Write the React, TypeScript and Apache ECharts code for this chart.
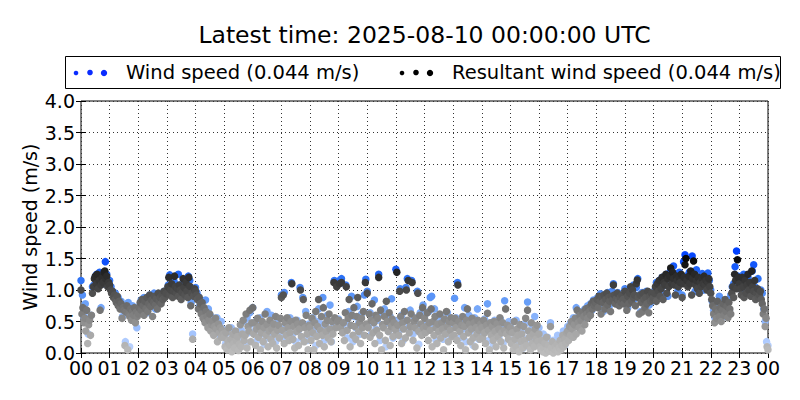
import React, { useEffect, useRef } from "react";
import * as echarts from "echarts";

const titleText = "Latest time: 2025-08-10 00:00:00 UTC";
const legendLabels = ["Wind speed (0.044 m/s)", "Resultant wind speed (0.044 m/s)"];
const yAxisName = "Wind speed (m/s)";
const windStepMinutes = 3; // wind speed: one sample every 3 minutes (20 per hour) + final 24:00 sample
const resultantStepMinutes = 2; // resultant: one sample every 2 minutes (30 per hour) + final 24:00 sample

// Wind speed (m/s), one row per hour 00..23, last row = 24:00
const windSpeed = [
  1.15, 0.92, 0.58, 0.78, 0.52, 0.30, 0.55, 0.60, 1.05, 1.08, 1.22, 1.25, 1.12, 1.28, 0.72, 1.18, 1.10, 1.45, 1.25, 1.15,
  1.15, 1.05, 0.98, 0.92, 0.95, 0.85, 0.88, 0.78, 0.82, 0.58, 0.75, 0.18, 0.70, 0.80, 0.10, 0.65, 0.75, 0.56, 0.70, 0.40,
  0.66, 0.75, 0.84, 0.72, 0.88, 0.80, 0.64, 0.85, 0.92, 0.74, 0.82, 0.95, 0.70, 0.88, 0.78, 0.93, 0.84, 0.90, 0.98, 0.92,
  0.98, 1.08, 1.24, 0.95, 1.04, 1.14, 0.92, 1.02, 1.25, 1.08, 0.98, 0.94, 1.12, 1.04, 0.90, 1.22, 1.15, 0.80, 0.30, 0.96,
  1.04, 0.96, 0.90, 0.75, 0.82, 0.68, 0.60, 0.84, 0.55, 0.70, 0.48, 0.58, 0.42, 0.52, 0.36, 0.56, 0.45, 0.28, 0.50, 0.38,
  0.26, 0.15, 0.32, 0.10, 0.20, 0.40, 0.16, 0.24, 0.08, 0.30, 0.18, 0.12, 0.36, 0.22, 0.50, 0.16, 0.56, 0.32, 0.64, 0.46,
  0.72, 0.34, 0.50, 0.20, 0.42, 0.56, 0.30, 0.44, 0.14, 0.38, 0.66, 0.24, 0.42, 0.60, 0.32, 0.46, 0.18, 0.38, 0.54, 0.28,
  0.92, 0.40, 0.96, 0.22, 0.48, 0.34, 0.56, 1.12, 0.30, 0.44, 0.18, 0.52, 0.36, 1.04, 0.24, 0.88, 0.42, 0.66, 0.20, 0.46,
  0.44, 0.24, 0.56, 0.36, 0.12, 0.50, 0.70, 0.32, 0.46, 0.88, 0.20, 0.42, 0.60, 0.34, 0.76, 0.18, 0.48, 1.15, 0.54, 1.08,
  0.54, 1.16, 1.18, 0.38, 0.48, 1.08, 0.24, 0.66, 0.44, 0.90, 0.18, 0.58, 0.40, 0.74, 0.48, 0.30, 0.62, 0.42, 0.92, 1.17,
  0.98, 0.44, 0.64, 0.30, 0.56, 0.84, 0.38, 0.52, 1.25, 0.20, 0.64, 0.42, 0.70, 0.10, 0.48, 0.34, 0.58, 0.86, 0.24, 0.52,
  1.33, 0.48, 0.34, 1.02, 0.60, 0.20, 0.52, 1.04, 1.18, 0.42, 0.68, 1.15, 0.30, 0.56, 0.46, 0.98, 0.14, 0.64, 0.38, 0.76,
  0.58, 0.38, 0.48, 0.66, 0.88, 0.90, 0.42, 0.70, 0.20, 0.52, 0.34, 0.60, 0.44, 0.22, 0.50, 0.38, 0.64, 0.30, 0.50, 0.42,
  0.52, 0.87, 0.56, 1.12, 0.46, 0.24, 0.54, 0.38, 0.72, 0.18, 0.48, 0.60, 0.34, 0.46, 0.12, 0.56, 0.38, 0.70, 0.22, 0.48,
  0.42, 0.30, 0.54, 0.38, 0.78, 0.20, 0.48, 0.40, 0.12, 0.52, 0.34, 0.46, 0.24, 0.54, 0.38, 0.16, 0.83, 0.44, 0.30, 0.50,
  0.42, 0.20, 0.36, 0.12, 0.52, 0.26, 0.16, 0.40, 0.32, 0.08, 0.46, 0.22, 0.81, 0.34, 0.14, 0.44, 0.24, 0.58, 0.18, 0.36,
  0.40, 0.20, 0.15, 0.30, 0.10, 0.18, 0.25, 0.08, 0.48, 0.12, 0.20, 0.10, 0.15, 0.28, 0.08, 0.14, 0.20, 0.35, 0.12, 0.25,
  0.42, 0.28, 0.48, 0.36, 0.56, 0.45, 0.72, 0.52, 0.60, 0.38, 0.66, 0.55, 0.70, 0.58, 0.75, 0.64, 0.78, 0.68, 0.84, 0.80,
  0.82, 0.88, 0.76, 0.94, 0.86, 0.66, 0.92, 0.84, 0.96, 0.74, 0.88, 0.98, 1.10, 0.92, 0.82, 0.96, 0.86, 0.80, 0.90, 0.84,
  1.02, 0.88, 0.72, 0.94, 0.82, 0.98, 1.08, 0.86, 1.04, 1.18, 0.92, 0.66, 0.96, 0.84, 0.70, 0.98, 0.90, 0.76, 0.92, 0.82,
  0.92, 1.00, 1.12, 0.90, 1.15, 1.02, 1.20, 0.95, 1.08, 1.25, 0.90, 1.18, 1.30, 1.10, 1.38, 1.22, 1.12, 0.98, 1.28, 1.18,
  0.92, 1.45, 1.56, 1.22, 1.12, 1.28, 1.15, 1.54, 1.25, 0.98, 1.32, 1.15, 1.20, 1.08, 1.26, 1.00, 1.18, 1.12, 1.27, 1.15,
  1.00, 0.82, 0.68, 0.55, 0.76, 0.62, 0.90, 0.72, 0.65, 0.80, 0.58, 0.75, 0.85, 0.68, 0.92, 1.05, 1.10, 1.37, 1.62, 1.22,
  1.15, 1.08, 0.98, 1.25, 1.10, 0.95, 1.20, 1.00, 1.12, 1.30, 1.40, 1.05, 0.96, 1.18, 0.90, 1.00, 0.95, 0.70, 0.50, 0.18,
  0.12,
];

// Resultant wind speed (m/s), one row per hour 00..23 (30 samples), last row = 24:00
const resultantSpeed = [
  1.00, 0.62, 0.72, 0.48, 0.55, 0.35, 0.68, 0.15, 0.45, 0.52, 0.28, 0.60, 0.95, 1.05, 1.18, 1.22, 1.10, 1.25, 1.02, 1.15, 0.68, 1.08, 1.20, 1.12, 1.28, 1.30, 1.18, 1.22, 1.05, 1.12,
  1.08, 1.00, 0.95, 0.98, 0.88, 0.92, 0.85, 0.80, 0.90, 0.75, 0.82, 0.70, 0.78, 0.55, 0.72, 0.68, 0.12, 0.65, 0.75, 0.05, 0.62, 0.58, 0.70, 0.52, 0.66, 0.60, 0.72, 0.48, 0.65, 0.58,
  0.62, 0.72, 0.80, 0.68, 0.85, 0.75, 0.60, 0.82, 0.70, 0.88, 0.66, 0.78, 0.92, 0.74, 0.84, 0.58, 0.80, 0.90, 0.76, 0.86, 0.70, 0.95, 0.82, 0.88, 0.78, 0.92, 0.85, 0.98, 0.88, 0.94,
  0.95, 1.05, 1.20, 0.92, 1.00, 1.10, 0.88, 0.98, 1.22, 1.05, 0.95, 1.02, 0.90, 1.08, 1.00, 0.85, 0.96, 1.18, 1.04, 0.92, 1.12, 0.98, 0.88, 1.20, 1.06, 0.75, 0.95, 0.22, 0.90, 1.02,
  0.98, 0.92, 0.85, 0.70, 0.88, 0.78, 0.62, 0.80, 0.55, 0.72, 0.48, 0.66, 0.58, 0.40, 0.52, 0.62, 0.35, 0.45, 0.50, 0.28, 0.42, 0.55, 0.38, 0.18, 0.46, 0.32, 0.40, 0.25, 0.36, 0.30,
  0.25, 0.10, 0.32, 0.05, 0.18, 0.40, 0.12, 0.22, 0.02, 0.30, 0.15, 0.08, 0.35, 0.20, 0.26, 0.04, 0.14, 0.45, 0.10, 0.30, 0.52, 0.20, 0.28, 0.62, 0.08, 0.42, 0.35, 0.68, 0.18, 0.48,
  0.72, 0.30, 0.48, 0.12, 0.38, 0.55, 0.25, 0.42, 0.05, 0.32, 0.50, 0.18, 0.40, 0.62, 0.28, 0.45, 0.10, 0.35, 0.52, 0.22, 0.38, 0.15, 0.46, 0.30, 0.58, 0.08, 0.36, 0.44, 0.24, 0.55,
  0.88, 0.36, 0.92, 0.15, 0.48, 0.28, 0.56, 0.40, 0.20, 0.32, 0.50, 1.10, 0.22, 0.42, 0.08, 0.52, 0.34, 0.46, 0.12, 0.38, 1.00, 0.26, 0.48, 0.85, 0.18, 0.40, 0.60, 0.30, 0.05, 0.44,
  0.40, 0.20, 0.55, 0.32, 0.05, 0.48, 0.66, 0.26, 0.42, 0.85, 0.15, 0.36, 0.58, 0.28, 0.72, 0.10, 0.46, 0.34, 0.52, 0.24, 0.62, 0.38, 0.18, 0.50, 0.30, 1.12, 0.56, 0.40, 1.05, 0.50,
  0.52, 1.10, 0.40, 1.12, 0.32, 0.48, 0.20, 0.64, 1.05, 0.36, 0.55, 0.85, 0.10, 0.44, 0.60, 0.28, 0.72, 0.42, 0.22, 0.58, 0.88, 0.34, 0.48, 0.15, 0.55, 0.40, 0.66, 0.28, 1.12, 0.46,
  0.95, 0.40, 0.62, 0.25, 0.52, 0.78, 0.32, 0.48, 0.15, 0.60, 0.36, 0.55, 1.20, 0.28, 0.68, 0.05, 0.45, 0.40, 0.58, 0.20, 0.82, 0.50, 0.34, 0.64, 0.12, 0.42, 0.54, 0.26, 0.48, 0.38,
  0.36, 1.28, 0.44, 0.28, 0.98, 0.58, 0.15, 0.48, 0.38, 0.66, 0.24, 1.00, 0.52, 1.15, 0.32, 0.42, 0.62, 1.12, 0.20, 0.50, 0.40, 0.55, 0.08, 0.95, 0.34, 0.60, 0.46, 0.28, 0.72, 0.40,
  0.55, 0.32, 0.42, 0.64, 0.20, 0.48, 0.36, 0.70, 0.10, 0.50, 0.28, 0.58, 0.40, 0.15, 0.46, 0.34, 0.62, 0.24, 0.48, 0.38, 0.05, 0.54, 0.30, 0.66, 0.42, 0.18, 0.50, 0.36, 0.56, 0.26,
  0.48, 0.28, 0.55, 0.40, 0.20, 1.08, 0.50, 0.34, 0.12, 0.44, 0.58, 0.26, 0.42, 0.05, 0.52, 0.70, 0.32, 0.46, 0.18, 0.38, 0.55, 0.24, 0.48, 0.10, 0.40, 0.30, 0.52, 0.36, 0.22, 0.46,
  0.40, 0.24, 0.52, 0.32, 0.15, 0.44, 0.63, 0.36, 0.05, 0.48, 0.28, 0.42, 0.20, 0.50, 0.34, 0.10, 0.46, 0.26, 0.38, 0.56, 0.18, 0.32, 0.48, 0.08, 0.36, 0.70, 0.30, 0.44, 0.22, 0.35,
  0.40, 0.15, 0.32, 0.05, 0.50, 0.22, 0.10, 0.38, 0.28, 0.02, 0.45, 0.18, 0.30, 0.08, 0.42, 0.20, 0.55, 0.12, 0.68, 0.35, 0.25, 0.05, 0.48, 0.15, 0.30, 0.10, 0.38, 0.22, 0.44, 0.18,
  0.30, 0.10, 0.05, 0.20, 0.02, 0.08, 0.15, 0.00, 0.25, 0.05, 0.12, 0.03, 0.42, 0.08, 0.18, 0.00, 0.06, 0.10, 0.04, 0.14, 0.02, 0.08, 0.20, 0.05, 0.12, 0.28, 0.10, 0.22, 0.15, 0.32,
  0.35, 0.20, 0.42, 0.28, 0.50, 0.38, 0.25, 0.45, 0.55, 0.30, 0.68, 0.48, 0.40, 0.60, 0.52, 0.35, 0.65, 0.58, 0.45, 0.70, 0.62, 0.55, 0.72, 0.66, 0.60, 0.78, 0.70, 0.82, 0.75, 0.80,
  0.78, 0.85, 0.72, 0.90, 0.82, 0.62, 0.88, 0.80, 0.92, 0.70, 0.85, 0.95, 0.76, 0.88, 0.82, 0.66, 0.90, 0.84, 1.08, 0.92, 0.78, 0.86, 0.95, 0.82, 0.75, 0.88, 0.80, 0.92, 0.85, 0.78,
  0.98, 0.85, 0.68, 0.90, 0.78, 0.95, 1.05, 0.82, 1.00, 0.88, 0.92, 0.75, 1.10, 1.16, 0.88, 0.62, 0.92, 0.80, 0.65, 0.95, 0.85, 0.72, 0.88, 0.78, 0.98, 0.64, 0.90, 0.82, 0.95, 0.85,
  0.88, 0.95, 1.05, 0.82, 1.10, 0.98, 1.15, 0.90, 1.02, 1.20, 0.85, 1.12, 1.08, 1.25, 0.95, 1.18, 1.05, 1.22, 1.35, 1.10, 1.28, 1.18, 1.08, 0.92, 1.22, 1.15, 1.05, 1.20, 1.12, 1.25,
  0.88, 1.10, 1.20, 1.40, 1.50, 1.15, 1.05, 1.22, 1.10, 1.30, 0.92, 1.18, 1.46, 1.25, 1.08, 1.15, 1.02, 1.20, 0.95, 1.12, 1.05, 1.18, 1.10, 1.22, 1.08, 1.15, 1.00, 1.12, 1.18, 1.05,
  0.95, 0.85, 0.75, 0.62, 0.48, 0.70, 0.55, 0.82, 0.65, 0.58, 0.72, 0.50, 0.68, 0.78, 0.60, 0.85, 0.66, 0.74, 0.56, 0.80, 0.70, 0.62, 0.95, 1.05, 0.88, 1.25, 1.15, 1.02, 1.48, 1.20,
  1.10, 1.02, 0.92, 1.20, 1.05, 0.88, 1.15, 0.95, 1.08, 1.25, 1.00, 1.12, 0.90, 1.30, 1.05, 0.98, 1.15, 0.85, 0.95, 1.02, 0.88, 0.92, 0.98, 0.85, 0.78, 0.62, 0.70, 0.42, 0.55, 0.10,
  0.05,
];

const greyStops: [number, number[]][] = [
  [0, [188, 188, 188]],
  [0.3, [168, 168, 168]],
  [0.6, [128, 128, 128]],
  [1.0, [72, 72, 72]],
  [1.5, [8, 8, 8]],
];
const blueStops: [number, number[]][] = [
  [0, [192, 214, 255]],
  [0.5, [145, 184, 252]],
  [0.8, [106, 160, 248]],
  [1.2, [40, 110, 245]],
  [1.6, [0, 64, 255]],
];

function rgb(c: number[]) {
  return `rgb(${Math.round(c[0])},${Math.round(c[1])},${Math.round(c[2])})`;
}
function colorFor(stops: [number, number[]][], v: number): string {
  if (v <= stops[0][0]) return rgb(stops[0][1]);
  for (let i = 1; i < stops.length; i++) {
    if (v <= stops[i][0]) {
      const [a, ca] = stops[i - 1];
      const [b, cb] = stops[i];
      const t = (v - a) / (b - a);
      return rgb(ca.map((c, k) => c + (cb[k] - c) * t));
    }
  }
  return rgb(stops[stops.length - 1][1]);
}

const FONT = "DejaVu Sans";

export default function App() {
  const ref = useRef<HTMLDivElement>(null);
  useEffect(() => {
    if (!ref.current) return;
    const chart = echarts.init(ref.current, null, { renderer: "svg" });
    const toPoints = (arr: number[], step: number) => arr.map((v, i) => [(i * step) / 60, v]);
    const tickStyle = { inside: true, length: 5, lineStyle: { color: "#000", width: 1 } };
    const gridLine = { show: true, lineStyle: { color: "#333", width: 1, type: [1, 3] as any } };
    chart.setOption({
      animation: false,
      backgroundColor: "#fff",
      grid: { left: 81, right: 32, top: 101, bottom: 47, show: true, borderColor: "#000", borderWidth: 1, backgroundColor: "transparent" },
      xAxis: [
        {
          type: "value", min: 0, max: 24, interval: 1,
          axisLine: { show: false }, axisTick: tickStyle, splitLine: gridLine,
          axisLabel: {
            color: "#000", fontSize: 19, fontFamily: FONT, margin: 5,
            formatter: (v: number) => String(Math.round(v) % 24).padStart(2, "0"),
          },
        },
        {
          type: "value", position: "top", min: 0, max: 24, interval: 1,
          axisLine: { show: false }, axisTick: tickStyle, splitLine: { show: false }, axisLabel: { show: false },
        },
      ],
      yAxis: [
        {
          type: "value", min: 0, max: 4, interval: 0.5,
          axisLine: { show: false }, axisTick: tickStyle, splitLine: gridLine,
          axisLabel: { color: "#000", fontSize: 19, fontFamily: FONT, margin: 6, formatter: (v: number) => v.toFixed(1) },
        },
        {
          type: "value", position: "right", min: 0, max: 4, interval: 0.5,
          axisLine: { show: false }, axisTick: tickStyle, splitLine: { show: false }, axisLabel: { show: false },
        },
      ],
      series: [
        {
          name: legendLabels[0], type: "scatter", xAxisIndex: 0, yAxisIndex: 0,
          symbolSize: 7.5, data: toPoints(windSpeed, windStepMinutes),
          itemStyle: { opacity: 1, color: (p: any) => colorFor(blueStops, p.value[1]) },
        },
        {
          name: legendLabels[1], type: "scatter", xAxisIndex: 0, yAxisIndex: 0,
          symbolSize: 7.5, data: toPoints(resultantSpeed, resultantStepMinutes),
          itemStyle: { opacity: 1, color: (p: any) => colorFor(greyStops, p.value[1]) },
        },
      ],
      graphic: [
        {
          type: "text", x: 424.5, y: 35,
          style: { text: titleText, fill: "#000", font: `23.5px '${FONT}'`, textAlign: "center", textVerticalAlign: "middle" },
        },
        {
          type: "text", x: 30, y: 227, rotation: Math.PI / 2,
          style: { text: yAxisName, fill: "#000", font: `19px '${FONT}'`, textAlign: "center", textVerticalAlign: "middle" },
        },
        {
          type: "rect", shape: { x: 65.5, y: 56.5, width: 715, height: 32 },
          style: { fill: "#fff", stroke: "#000", lineWidth: 1 },
        },
        { type: "circle", shape: { cx: 76, cy: 73, r: 2.3 }, style: { fill: "#0a2cff" } },
        { type: "circle", shape: { cx: 90, cy: 72.5, r: 2.8 }, style: { fill: "#0a2cff" } },
        { type: "circle", shape: { cx: 104, cy: 73, r: 3.2 }, style: { fill: "#0a2cff" } },
        {
          type: "text", x: 126, y: 72,
          style: { text: legendLabels[0], fill: "#000", font: `19.5px '${FONT}'`, textAlign: "left", textVerticalAlign: "middle" },
        },
        { type: "circle", shape: { cx: 402, cy: 73, r: 2.3 }, style: { fill: "#000" } },
        { type: "circle", shape: { cx: 416, cy: 72.5, r: 2.8 }, style: { fill: "#000" } },
        { type: "circle", shape: { cx: 430, cy: 73, r: 3.2 }, style: { fill: "#000" } },
        {
          type: "text", x: 452, y: 72,
          style: { text: legendLabels[1], fill: "#000", font: `19.5px '${FONT}'`, textAlign: "left", textVerticalAlign: "middle" },
        },
      ],
    });
    return () => chart.dispose();
  }, []);
  return <div ref={ref} style={{ width: 800, height: 400, position: "absolute", left: 0, top: 0 }} />;
}
